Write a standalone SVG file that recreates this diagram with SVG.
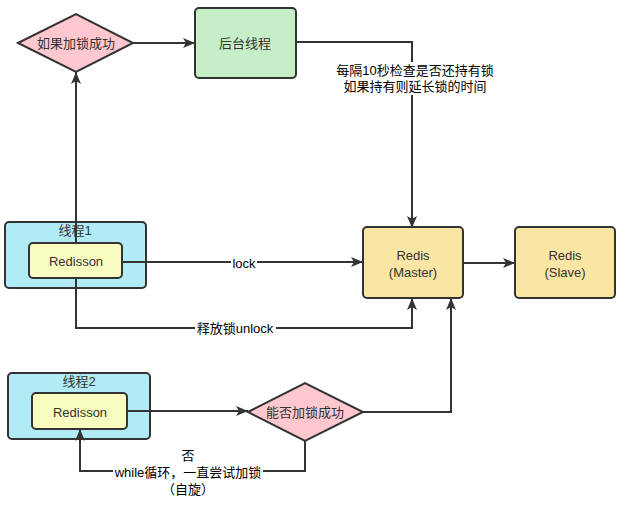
<svg xmlns="http://www.w3.org/2000/svg" width="626" height="506" viewBox="0 0 626 506">
<defs>
<marker id="arr" viewBox="0 0 12 10" refX="12" refY="5" markerWidth="12" markerHeight="10" markerUnits="userSpaceOnUse" orient="auto">
<path d="M0,0 L12,5 L0,10 L3,5 Z" fill="#333"/>
</marker>
</defs>
<style>
text{font-family:"Liberation Sans","Noto Sans CJK SC",sans-serif;font-size:13px;text-anchor:middle;dominant-baseline:central}
.n{fill:#333}
.l{fill:#000}
.box{stroke:#333;stroke-width:2}
.c{fill:none;stroke:#333;stroke-width:2}
.bg{fill:#fff}
</style>
<rect width="626" height="506" fill="#fff"/>
<g id="thread1">
<rect class="box" x="5" y="222" width="141" height="66" rx="4" fill="#b1ebf5"/>
<text class="n" x="75" y="230">线程1</text>
</g>
<g id="thread2">
<rect class="box" x="8" y="373" width="142" height="66" rx="4" fill="#b1ebf5"/>
<text class="n" x="79" y="381">线程2</text>
</g>
<g id="connectors">
<path class="c" d="M133,43 H195" marker-end="url(#arr)"/>
<path class="c" d="M296,42 H412 V228" marker-end="url(#arr)"/>
<path class="c" d="M76,243 V72" marker-end="url(#arr)"/>
<path class="c" d="M122,262 H363" marker-end="url(#arr)"/>
<path class="c" d="M463,263 H515" marker-end="url(#arr)"/>
<path class="c" d="M76,278 V328 H412 V298" marker-end="url(#arr)"/>
<path class="c" d="M127,411 H248" marker-end="url(#arr)"/>
<path class="c" d="M363,412 H451 V298" marker-end="url(#arr)"/>
<path class="c" d="M305,441 V471 H80 V429" marker-end="url(#arr)"/>
<rect class="bg" x="335" y="62" width="161" height="33"/>
<text class="l" x="415" y="70">每隔10秒检查是否还持有锁</text>
<text class="l" x="415" y="86">如果持有则延长锁的时间</text>
<rect class="bg" x="231" y="255" width="26" height="16"/>
<text class="l" x="244" y="263">lock</text>
<rect class="bg" x="195" y="320" width="81" height="16"/>
<text class="l" x="235" y="328">释放锁unlock</text>
<rect class="bg" x="113" y="463" width="150" height="17"/>
<text class="l" x="188" y="455">否</text>
<text class="l" x="188" y="472">while循环，一直尝试加锁</text>
<text class="l" x="188" y="489">（自旋）</text>
</g>
<g id="decision1">
<path class="box" d="M18,43 L76,14 L133,43 L76,72 Z" fill="#ffc7ce"/>
<text class="n" x="76" y="43">如果加锁成功</text>
</g>
<g id="bgThread">
<rect class="box" x="195" y="8" width="101" height="70" rx="4" fill="#c6efc8"/>
<text class="n" x="245" y="43">后台线程</text>
</g>
<g id="redisson1">
<rect class="box" x="29" y="243" width="93" height="35" rx="4" fill="#f9fcc0"/>
<text class="n" x="76" y="261">Redisson</text>
</g>
<g id="redisMaster">
<rect class="box" x="363" y="227" width="100" height="71" rx="4" fill="#fae6a4"/>
<text class="n" x="413" y="255">Redis</text>
<text class="n" x="413" y="272">(Master)</text>
</g>
<g id="redisSlave">
<rect class="box" x="515" y="227" width="100" height="71" rx="4" fill="#fae6a4"/>
<text class="n" x="565" y="255">Redis</text>
<text class="n" x="565" y="272">(Slave)</text>
</g>
<g id="redisson2">
<rect class="box" x="32" y="393" width="95" height="36" rx="4" fill="#f9fcc0"/>
<text class="n" x="80" y="412">Redisson</text>
</g>
<g id="decision2">
<path class="box" d="M248,412 L305,383 L363,412 L305,441 Z" fill="#ffc7ce"/>
<text class="n" x="305" y="412">能否加锁成功</text>
</g>
</svg>
